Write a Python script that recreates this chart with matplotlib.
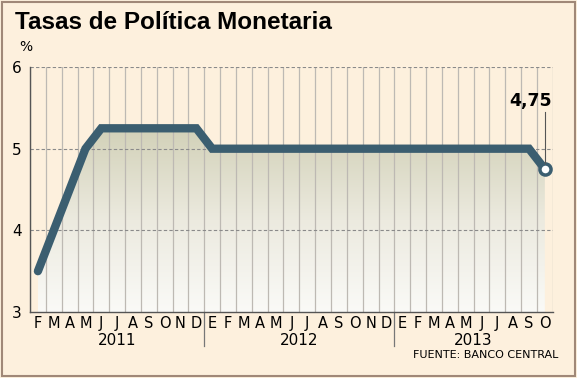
import numpy as np
import matplotlib.pyplot as plt
from matplotlib.colors import LinearSegmentedColormap

# monthly policy rate, Feb 2011 .. Oct 2013
months = ['F', 'M', 'A', 'M', 'J', 'J', 'A', 'S', 'O', 'N', 'D',
          'E', 'F', 'M', 'A', 'M', 'J', 'J', 'A', 'S', 'O', 'N', 'D',
          'E', 'F', 'M', 'A', 'M', 'J', 'J', 'A', 'S', 'O']
rates = [3.5, 4.0, 4.5, 5.0, 5.25, 5.25, 5.25, 5.25, 5.25, 5.25, 5.25,
         5.0, 5.0, 5.0, 5.0, 5.0, 5.0, 5.0, 5.0, 5.0, 5.0, 5.0, 5.0,
         5.0, 5.0, 5.0, 5.0, 5.0, 5.0, 5.0, 5.0, 5.0, 4.75]
years = ['2011', '2012', '2013']
year_start = [0, 11, 23]
year_end = [11, 23, 33]

bg = '#fdf0dd'
line_col = '#3b5e70'

fig = plt.figure(figsize=(5.77, 3.78), dpi=100, facecolor=bg)
ax = fig.add_axes([0.052, 0.1746, 0.906, 0.648])
ax.set_facecolor(bg)

x = np.arange(len(rates))
ax.set_xlim(-0.5, len(rates) - 0.5)
ax.set_ylim(3, 6)

# gradient fill under the line
cmap = LinearSegmentedColormap.from_list('g', ['#fafaf7', '#eceadf', '#d2d1b8'])
grad = np.linspace(0, 1, 256).reshape(-1, 1)
img = ax.imshow(grad, extent=(x[0], x[-1], 3, max(rates)), origin='lower',
                cmap=cmap, aspect='auto', zorder=1)
poly = ax.fill_between(x, rates, 3, color='none', zorder=1)
img.set_clip_path(poly.get_paths()[0], transform=ax.transData)

# grid
for b in np.arange(-0.5, len(rates) + 0.5, 1):
    ax.axvline(b, color='#bdb9b3', lw=0.9, zorder=2)
for yv in [4, 5, 6]:
    ax.axhline(yv, color='#8a8a8a', lw=0.8, ls=(0, (3, 2)), zorder=2)

ax.plot(x, rates, color=line_col, lw=6, solid_joinstyle='miter',
        solid_capstyle='round', zorder=4)
ax.plot(x[-1], rates[-1], 'o', ms=8, mfc='white', mec=line_col, mew=2.5, zorder=5)

# annotation
ax.plot([x[-1], x[-1]], [rates[-1] + 0.07, 5.45], color='#555555', lw=0.8, zorder=6)
ax.text(x[-1] - 0.9, 5.47, '4,75', fontsize=12.5, fontweight='bold',
        ha='center', va='bottom', zorder=6)

for s in ['top', 'right']:
    ax.spines[s].set_visible(False)
for s in ['left', 'bottom']:
    ax.spines[s].set_color('#555555')
    ax.spines[s].set_linewidth(1)
    ax.spines[s].set_zorder(6)

ax.set_yticks([3, 4, 5, 6])
ax.set_yticklabels(['3', '4', '5', '6'], fontsize=11)
ax.set_xticks(x)
ax.set_xticklabels(months, fontsize=10.5)
ax.tick_params(length=0, pad=3)
ax.tick_params(axis='y', pad=6)

# year separators and labels
for ys in year_start[1:]:
    ax.plot([ys - 0.5, ys - 0.5], [3, 2.58], color='#777777', lw=0.9,
            clip_on=False, zorder=6)
for yr, a, b in zip(years, year_start, year_end):
    ax.text((a + b - 1) / 2, 2.655, yr, ha='center', va='center', fontsize=11)

fig.text(0.026, 0.94, 'Tasas de Política Monetaria', fontsize=17.5,
         fontweight='bold', ha='left', va='center', family='Liberation Sans')
fig.text(0.033, 0.876, '%', fontsize=10, ha='left', va='center')
fig.text(0.968, 0.06, 'FUENTE: BANCO CENTRAL', fontsize=8, ha='right',
         va='center', family='Liberation Sans Narrow')

# outer frame
fig.patches.append(plt.Rectangle((0.004, 0.005), 0.992, 0.99, transform=fig.transFigure,
                                 fill=False, edgecolor='#a08878', lw=1.5))

fig.savefig('out.png', dpi=100, facecolor=bg)
